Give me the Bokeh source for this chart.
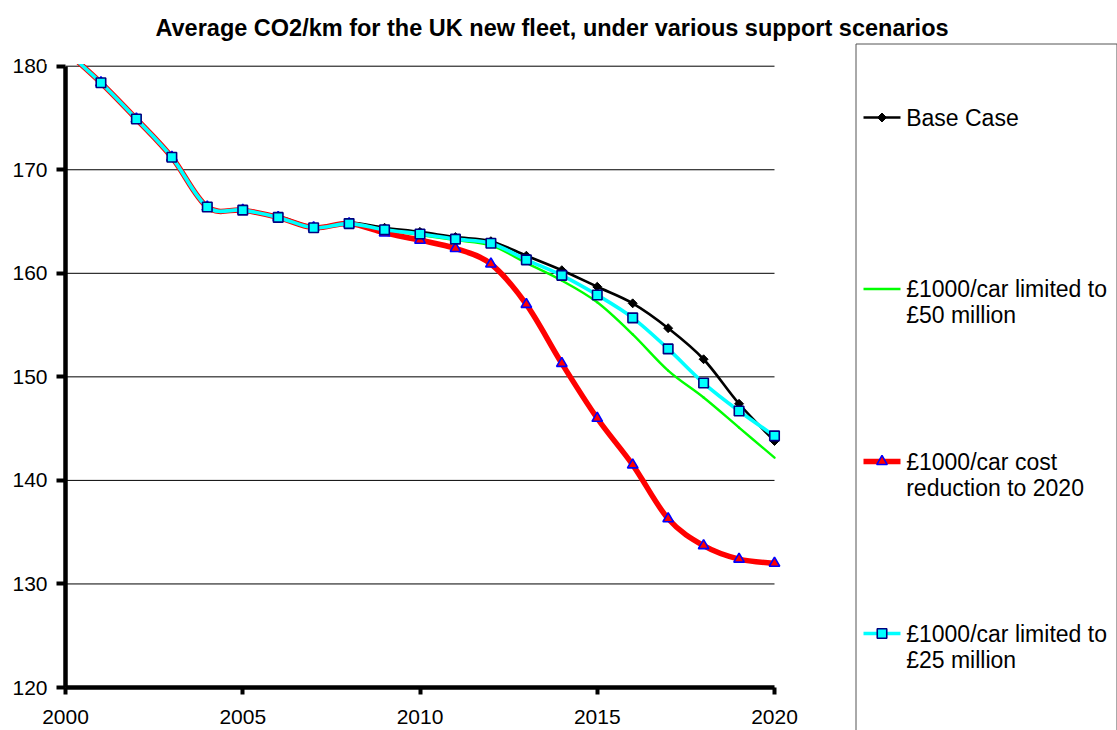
from bokeh.plotting import figure
from bokeh.models import Range1d, FixedTicker
from bokeh.core.properties import value
from bokeh.embed import file_html
from bokeh.resources import INLINE

# ---- data -------------------------------------------------------------
years = list(range(2000, 2021))

base_case = [181.5, 178.4, 174.9, 171.2, 166.4, 166.1, 165.5, 164.5, 164.9, 164.4,
             164.0, 163.5, 163.1, 161.7, 160.3, 158.7, 157.1, 154.7, 151.7, 147.4, 143.8]
limited_50m = [181.5, 178.4, 174.9, 171.2, 166.4, 166.1, 165.4, 164.4, 164.8, 164.2,
               163.7, 163.2, 162.7, 161.0, 159.3, 157.2, 154.1, 150.6, 148.0, 145.1, 142.2]
cost_reduction = [181.5, 178.4, 174.9, 171.2, 166.4, 166.1, 165.4, 164.4, 164.8, 163.9,
                  163.2, 162.4, 160.9, 157.0, 151.3, 146.0, 141.5, 136.3, 133.7, 132.4, 132.0]
limited_25m = [181.5, 178.4, 174.9, 171.2, 166.4, 166.1, 165.4, 164.4, 164.8, 164.2,
               163.8, 163.3, 162.9, 161.3, 159.8, 157.9, 155.7, 152.7, 149.4, 146.7, 144.3]

series_labels = [
    ["Base Case"],
    ["£1000/car limited to", "£50 million"],
    ["£1000/car cost", "reduction to 2020"],
    ["£1000/car limited to", "£25 million"],
]

title_text = "Average CO2/km for the UK new fleet, under various support scenarios"
y_ticks = [120, 130, 140, 150, 160, 170, 180]
x_ticks = [2000, 2005, 2010, 2015, 2020]
x_lo, x_hi = 2000, 2020
y_lo, y_hi = 120, 180

FONT = value("Liberation Sans")

# ---- page geometry (pixels) -------------------------------------------
W, H = 1117, 730
AX_LEFT, AX_RIGHT = 65, 774      # where x_lo / x_hi sit
AX_TOP, AX_BOTTOM = 65.7, 687    # where y_hi / y_lo sit

px_per_x = (AX_RIGHT - AX_LEFT) / (x_hi - x_lo)
px_per_y = (AX_BOTTOM - AX_TOP) / (y_hi - y_lo)
x_range_end = x_hi + (W - AX_RIGHT) / px_per_x
y_range_end = y_hi + AX_TOP / px_per_y

# ---- styles per series ------------------------------------------------
styles = [
    dict(color="#000000", width=2.6, marker="square", angle=0.785398, size=6.3,
         fill="#000000", outline="#000000", mlw=1.0),
    dict(color="#00FF00", width=2.4, marker=None),
    dict(color="#FF0000", width=5.5, marker="triangle", angle=0.0, size=10.5,
         fill="#FF0000", outline="#0000FF", mlw=1.6),
    dict(color="#00FFFF", width=3.6, marker="square", angle=0.0, size=9.5,
         fill="#00FFFF", outline="#000080", mlw=1.6),
]
series_values = [base_case, limited_50m, cost_reduction, limited_25m]


def smooth_segments(xs, ys):
    """Cubic Bezier pieces through every point (Catmull-Rom style tangents)."""
    n = len(xs)
    out = dict(x0=[], y0=[], x1=[], y1=[], cx0=[], cy0=[], cx1=[], cy1=[])
    for i in range(n - 1):
        a = i - 1 if i > 0 else i
        d = i + 2 if i + 2 < n else i + 1
        out["x0"].append(xs[i])
        out["y0"].append(ys[i])
        out["x1"].append(xs[i + 1])
        out["y1"].append(ys[i + 1])
        out["cx0"].append(xs[i] + (xs[i + 1] - xs[a]) / 6.0)
        out["cy0"].append(ys[i] + (ys[i + 1] - ys[a]) / 6.0)
        out["cx1"].append(xs[i + 1] - (xs[d] - xs[i]) / 6.0)
        out["cy1"].append(ys[i + 1] - (ys[d] - ys[i]) / 6.0)
    return out


# ---- figure -----------------------------------------------------------
p = figure(width=W, height=H,
           x_range=Range1d(x_lo, x_range_end), y_range=Range1d(y_lo, y_range_end),
           toolbar_location=None, output_backend="svg",
           min_border_left=AX_LEFT, min_border_right=0,
           min_border_top=0, min_border_bottom=H - AX_BOTTOM)
p.outline_line_color = None
p.background_fill_color = "#FFFFFF"
p.border_fill_color = "#FFFFFF"
p.grid.visible = False

# page-pixel coordinates for title and legend
p.extra_x_ranges = {"px": Range1d(AX_LEFT, W)}
p.extra_y_ranges = {"px": Range1d(AX_BOTTOM, 0)}

for ax in (p.xaxis[0], p.yaxis[0]):
    ax.axis_line_width = 4.5
    ax.axis_line_color = "#000000"
    ax.major_tick_line_width = 4
    ax.major_tick_line_color = "#000000"
    ax.major_tick_in = 0
    ax.minor_tick_out = 0
    ax.minor_tick_in = 0
    ax.major_label_text_font = "Liberation Sans"
    ax.major_label_text_font_size = "21px"
    ax.major_label_text_color = "#000000"

p.xaxis[0].ticker = FixedTicker(ticks=x_ticks)
p.xaxis[0].bounds = (x_lo, x_hi)
p.xaxis[0].major_tick_out = 7
p.xaxis[0].major_label_standoff = 15
p.yaxis[0].ticker = FixedTicker(ticks=y_ticks)
p.yaxis[0].bounds = (y_lo, y_hi)
p.yaxis[0].major_tick_out = 9
p.yaxis[0].major_label_standoff = 9

# horizontal gridlines across the plotting area only
p.segment(x0=[x_lo] * len(y_ticks), x1=[x_hi] * len(y_ticks), y0=y_ticks, y1=y_ticks,
          line_color="#000000", line_width=1)

for vals, st in zip(series_values, styles):
    seg = smooth_segments(years, vals)
    p.bezier(line_color=st["color"], line_width=st["width"], line_cap="round", **seg)
    if st["marker"]:
        p.scatter(years, vals, marker=st["marker"], size=st["size"], angle=st["angle"],
                  fill_color=st["fill"], line_color=st["outline"], line_width=st["mlw"])

# white band above the value axis so the curves stop at its top
p.quad(left=[AX_LEFT - 20], right=[W + 20], top=[-20], bottom=[AX_TOP - 2.3],
       x_range_name="px", y_range_name="px", fill_color="#FFFFFF", line_color=None,
       level="overlay")

# title
p.text(x=[551.5], y=[27.3], text=[title_text], text_font=FONT, text_font_style="bold",
       text_font_size="23.5px", text_align="center", text_baseline="alphabetic",
       text_color="#000000", x_range_name="px", y_range_name="px", level="overlay")

# ---- legend -----------------------------------------------------------
LEG_L, LEG_R, LEG_T = 855.5, 1116.5, 43.5
p.quad(left=[LEG_L], right=[LEG_R], top=[LEG_T], bottom=[H + 20], fill_color=None,
       line_color="#555555", line_width=1, x_range_name="px", y_range_name="px",
       level="overlay")

entry_y = [117, 288.5, 461, 633]
line_gap = 26
for ey, st, lines in zip(entry_y, styles, series_labels):
    p.line([863, 900], [ey, ey], line_color=st["color"], line_width=st["width"],
           x_range_name="px", y_range_name="px")
    if st["marker"]:
        p.scatter([881.5], [ey], marker=st["marker"], size=st["size"], angle=st["angle"],
                  fill_color=st["fill"], line_color=st["outline"], line_width=st["mlw"],
                  x_range_name="px", y_range_name="px")
    p.text(x=[905.7] * len(lines), y=[ey + k * line_gap for k in range(len(lines))], text=lines,
           text_font=FONT, text_font_size="23px", text_align="left", text_baseline="middle",
           text_color="#000000", x_range_name="px", y_range_name="px")

open("out.html", "w").write(file_html(p, INLINE))
